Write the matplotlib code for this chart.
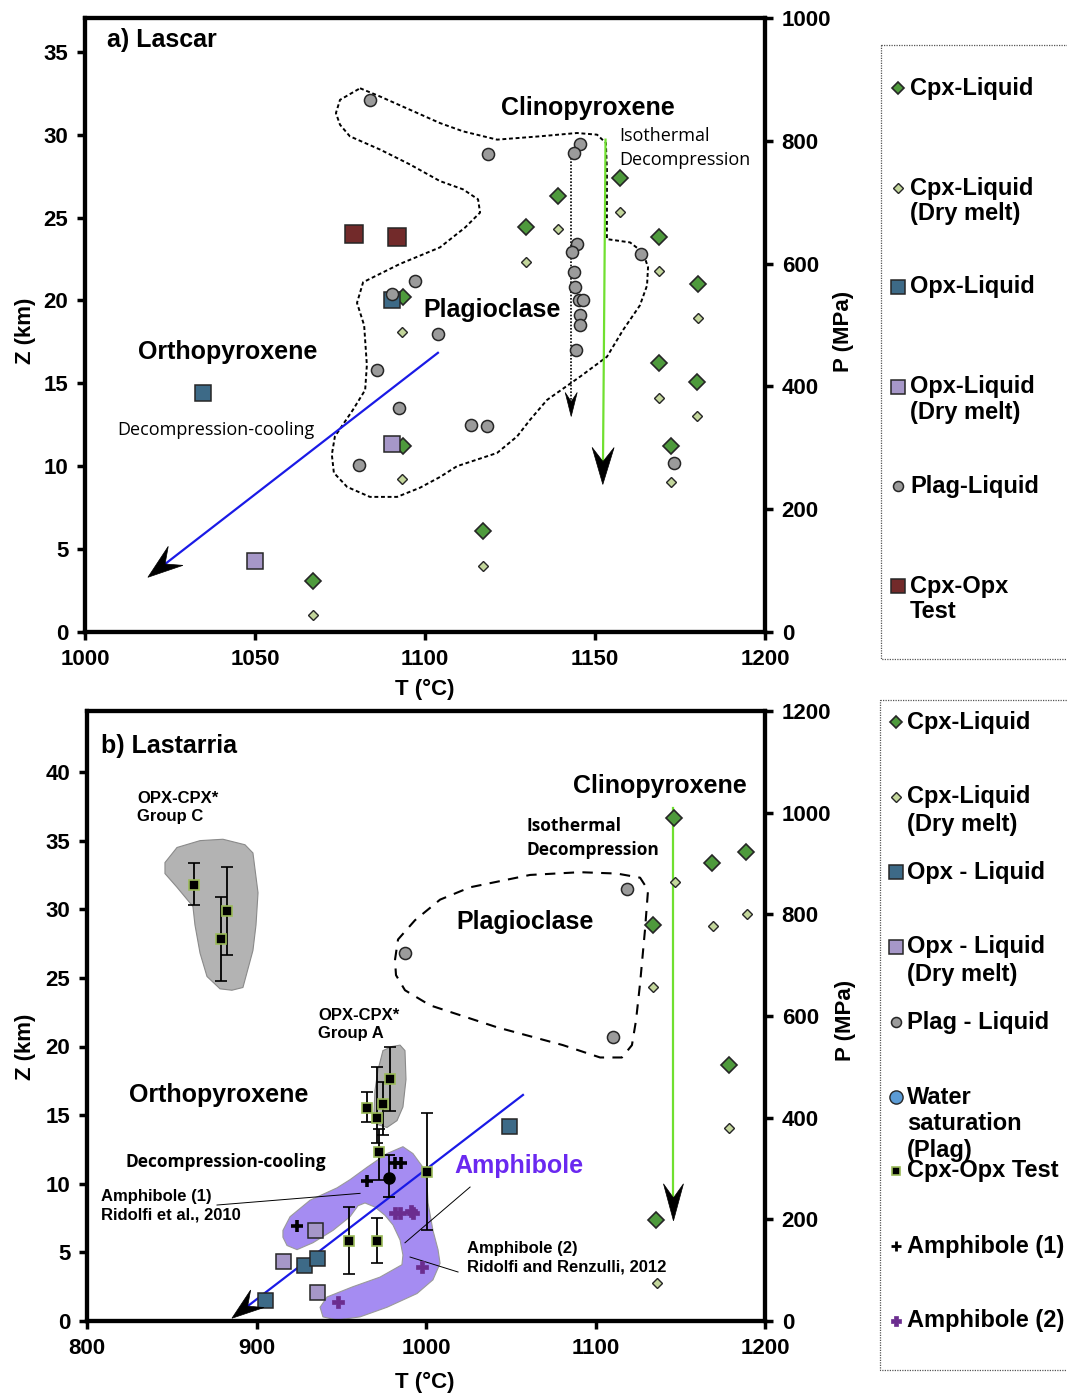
import numpy as np
import matplotlib.pyplot as plt
from matplotlib.patches import Polygon, Rectangle

plt.rcParams["font.family"] = ["Liberation Sans", "DejaVu Sans"]
plt.rcParams["font.weight"] = "bold"
plt.rcParams["axes.labelweight"] = "bold"

# ---------------- a) Lascar ----------------
a_cpx_T = [1157.4, 1139.1, 1129.7, 1168.8, 1180.3, 1093.5, 1168.8, 1180.0, 1172.4, 1117.1, 1093.5, 1067.1]
a_cpx_Z = [27.4, 26.3, 24.4, 23.85, 21.0, 20.2, 16.25, 15.1, 11.2, 6.1, 11.2, 3.1]
a_cpxdry_T = [1157.4, 1139.1, 1129.7, 1168.8, 1180.3, 1093.2, 1168.8, 1180.0, 1172.4, 1117.1, 1093.2, 1067.1]
a_cpxdry_Z = [25.35, 24.3, 22.3, 21.8, 18.95, 18.1, 14.1, 13.0, 9.05, 4.0, 9.2, 1.0]
a_opx_T = [1034.7, 1090.3]
a_opx_Z = [14.4, 20.0]
a_opxdry_T = [1050.0, 1090.3]
a_opxdry_Z = [4.3, 11.35]
a_plag_T = [1083.8, 1118.5, 1145.6, 1143.8, 1144.7, 1143.2, 1143.8, 1144.1, 1145.3, 1146.5, 1145.6,
            1145.6, 1144.4, 1163.5, 1097.1, 1090.3, 1103.8, 1085.9, 1092.4, 1080.6, 1113.5, 1118.2, 1173.2]
a_plag_Z = [32.1, 28.85, 29.45, 28.9, 23.4, 22.9, 21.7, 20.8, 20.0, 20.0, 19.1,
            18.5, 17.0, 22.8, 21.2, 20.4, 18.0, 15.8, 13.5, 10.1, 12.5, 12.4, 10.2]
a_test_T = [1079.1, 1091.8]
a_test_Z = [24.0, 23.8]

# plagioclase field outline
a_field_T = [1080.9, 1086.8, 1095.6, 1104.4, 1111.2, 1121.2, 1133.8, 1144.7, 1150.6, 1153.2, 1153.5,
             1153.5, 1153.5, 1160.3, 1164.1, 1165.6, 1165.3, 1163.2, 1158.2, 1153.5, 1145.6, 1135.9,
             1130.9, 1127.1, 1121.2, 1109.4, 1104.4, 1098.5, 1091.8, 1083.8, 1077.1, 1073.2, 1072.6,
             1073.5, 1078.8, 1082.4, 1082.9, 1082.1, 1080.0, 1081.8, 1092.6, 1104.4, 1111.8, 1116.2,
             1115.6, 1111.2, 1104.4, 1095.6, 1086.8, 1077.9, 1075.0, 1073.8, 1075.0, 1080.9]
a_field_Z = [32.8, 32.3, 31.5, 30.7, 30.2, 29.7, 29.9, 30.1, 30.0, 29.5, 27.9,
             25.5, 23.7, 23.5, 22.9, 22.0, 20.9, 19.7, 18.2, 16.6, 15.4, 14.0,
             12.8, 11.8, 10.8, 10.0, 9.35, 8.7, 8.15, 8.15, 8.75, 9.6, 10.7,
             11.8, 13.4, 14.6, 16.1, 18.5, 19.85, 21.1, 22.2, 23.2, 24.4, 25.3,
             26.1, 26.7, 27.2, 28.2, 29.1, 29.9, 30.6, 31.3, 32.1, 32.8]

# paths (start, end)
a_dotted_T, a_dotted_Z = [1143.0, 1143.0], [28.6, 13.0]
a_iso_T, a_iso_Z = [1153.1, 1152.3], [29.7, 8.9]
a_dc_T, a_dc_Z = [1103.8, 1018.5], [16.84, 3.3]

# ---------------- b) Lastarria ----------------
b_cpx_T = [1146.3, 1168.7, 1188.8, 1133.9, 1178.8, 1135.7]
b_cpx_Z = [36.65, 33.4, 34.2, 28.85, 18.65, 7.36]
b_cpxdry_T = [1146.9, 1169.3, 1189.4, 1133.9, 1178.8, 1136.3]
b_cpxdry_Z = [32.0, 28.8, 29.65, 24.3, 14.05, 2.8]
b_plag_T = [1118.6, 987.6, 1110.3]
b_plag_Z = [31.5, 26.8, 20.7]
b_opx_T = [905.0, 928.0, 935.7, 1049.0]
b_opx_Z = [1.53, 4.1, 4.6, 14.2]
b_opxdry_T = [934.5, 915.6, 935.7]
b_opxdry_Z = [6.6, 4.4, 2.1]
b_test_T = [863.1, 882.6, 879.1, 965.2, 971.1, 972.3, 974.6, 978.8, 1000.6, 954.6, 971.1]
b_test_Z = [31.8, 29.9, 27.8, 15.5, 14.8, 12.3, 15.8, 17.6, 10.85, 5.8, 5.8]
b_test_lo = [30.3, 26.7, 24.8, 14.5, 13.0, 10.3, 13.55, 15.3, 6.6, 3.4, 4.2]
b_test_hi = [33.4, 33.1, 30.9, 16.7, 18.5, 14.0, 17.4, 20.0, 15.15, 8.3, 7.5]
b_dot_T, b_dot_Z, b_dot_lo, b_dot_hi = [978.2], [10.4], [9.0], [12.1]
b_amph1_T = [923.9, 965.2, 981.7, 985.3]
b_amph1_Z = [6.9, 10.2, 11.5, 11.5]
b_amph2_T = [981.7, 984.7, 991.2, 992.3, 997.6, 948.1]
b_amph2_Z = [7.87, 7.87, 8.0, 7.87, 3.9, 1.4]

b_field_T = [981.7, 983.5, 993.5, 1008.3, 1026.0, 1061.4, 1090.9, 1112.7, 1126.3, 1131.0, 1129.2,
             1126.3, 1123.9, 1121.5, 1115.6, 1102.7, 1080.8, 1041.9, 1002.4, 987.6, 982.3, 981.7]
b_field_Z = [26.3, 27.8, 29.2, 30.7, 31.6, 32.5, 32.7, 32.6, 32.3, 31.4, 28.5,
             24.6, 21.9, 20.1, 19.2, 19.2, 20.1, 21.4, 23.0, 24.1, 25.2, 26.3]
grpC_T = [846.0, 853.1, 866.7, 880.2, 893.2, 897.9, 900.9, 899.7, 897.9, 892.0, 885.5, 878.5,
          870.8, 866.7, 863.7, 862.5, 853.1, 846.0]
grpC_Z = [33.4, 34.5, 35.0, 35.1, 34.7, 34.1, 31.2, 28.85, 27.0, 24.3, 24.1, 24.2,
          25.1, 26.8, 28.85, 30.2, 31.6, 32.6]
grpA_T = [974.6, 979.9, 984.7, 987.6, 988.2, 986.4, 982.9, 977.0, 971.7, 969.3, 969.9, 971.7]
grpA_Z = [19.7, 20.0, 20.1, 19.7, 17.6, 15.6, 14.6, 14.1, 14.3, 15.2, 16.8, 18.3]
amph_T = [915.6, 919.8, 931.6, 947.5, 955.2, 965.2, 977.0, 986.4, 992.3, 998.2, 1000.6, 1001.2,
          1004.1, 1007.1, 1008.3, 1004.1, 994.7, 977.0, 961.1, 947.5, 939.2, 937.5, 941.6, 956.9,
          972.9, 985.8, 986.4, 984.7, 980.5, 975.8, 969.9, 964.0, 959.9, 955.2, 945.1, 933.3,
          923.9, 918.0, 915.6]
amph_Z = [6.6, 7.6, 8.8, 9.7, 10.3, 11.2, 12.2, 12.7, 12.2, 11.2, 10.05, 8.6,
          6.6, 5.2, 4.2, 3.0, 2.0, 1.0, 0.3, 0.07, 0.3, 1.0, 1.75, 2.5,
          3.2, 4.1, 4.8, 5.9, 7.0, 7.7, 8.3, 8.6, 8.4, 7.6, 6.6, 5.7,
          5.2, 5.5, 6.1]

b_iso_T, b_iso_Z = [1146.0, 1146.0], [37.4, 7.3]
b_dc_T, b_dc_Z = [1057.2, 885.5], [16.47, 0.2]
# leader lines
lead1_T, lead1_Z = [876.7, 961.1], [8.45, 9.3]
lead2_T, lead2_Z = [1026.0, 987.6], [9.76, 5.7]
lead3_T, lead3_Z = [1018.9, 990.6], [3.57, 4.66]

legend_a = ["Cpx-Liquid", "Cpx-Liquid\n(Dry melt)", "Opx-Liquid", "Opx-Liquid\n(Dry melt)",
            "Plag-Liquid", "Cpx-Opx\nTest"]
legend_b = ["Cpx-Liquid", "Cpx-Liquid\n(Dry melt)", "Opx - Liquid", "Opx - Liquid\n(Dry melt)",
            "Plag - Liquid", "Water\nsaturation\n(Plag)", "Cpx-Opx Test", "Amphibole (1)", "Amphibole (2)"]

# ---- styles ----
EC = "#262626"
cpx_st = dict(ls="none", marker="D", ms=8.2, mfc="#4e9a3c", mec=EC, mew=1.2)
cpxdry_st = dict(ls="none", marker="D", ms=5.6, mfc="#c3d69b", mec=EC, mew=1.0)
opx_st = dict(ls="none", marker="s", ms=11, mfc="#3d6a87", mec=EC, mew=1.1)
opxdry_st = dict(ls="none", marker="s", ms=11, mfc="#a697c8", mec=EC, mew=1.1)
plag_st = dict(ls="none", marker="o", ms=8.7, mfc="#9b9b9b", mec=EC, mew=1.1)
testa_st = dict(ls="none", marker="s", ms=13, mfc="#722a2a", mec=EC, mew=1.1)
testb_st = dict(ls="none", marker="s", ms=7.5, mfc="black", mec="#9bbb59", mew=1.2)
amph1_st = dict(ls="none", marker="+", ms=9, mec="black", mew=2.6)
amph2_st = dict(ls="none", marker="P", ms=8.5, mfc="#6b2d8f", mec="#6b2d8f", mew=0.5)
water_st = dict(ls="none", marker="o", ms=9.5, mfc="#5b9bd5", mec=EC, mew=1.0)

fig = plt.figure(figsize=(10.67, 13.96), dpi=100)
W, H = 1067, 1396


def style_axes(ax, tax):
    for a in (ax, tax):
        for s in a.spines.values():
            s.set_linewidth(3)
        a.tick_params(direction="out", length=6, width=2.5, labelsize=16, pad=6)


def arrow(ax, T, Z, color, lw, head_len, head_w, ls="-"):
    p0 = ax.transData.transform((T[0], Z[0]))
    p1 = ax.transData.transform((T[1], Z[1]))
    u = (p1 - p0) / np.hypot(*(p1 - p0))
    n = np.array([-u[1], u[0]])
    notch = p1 - 0.62 * head_len * u
    pts = np.array([p1, p1 - head_len * u + head_w / 2 * n, notch, p1 - head_len * u - head_w / 2 * n])
    inv = ax.transData.inverted()
    end = inv.transform(notch)
    ax.plot([T[0], end[0]], [Z[0], end[1]], color=color, lw=lw, ls=ls, zorder=4)
    ax.add_patch(Polygon(inv.transform(pts), closed=True, fc="black", ec="black", lw=0.5, zorder=6))


# ================= panel a =================
ax = fig.add_axes([85 / W, 1 - 632 / H, 680 / W, 614 / H])
ax.set_xlim(1000, 1200)
ax.set_ylim(0, 1000 / 27)
ax.set_xticks(np.arange(1000, 1201, 50))
ax.set_yticks(np.arange(0, 36, 5))
tax = ax.twinx()
tax.set_ylim(0, 1000)
tax.set_yticks(np.arange(0, 1001, 200))
style_axes(ax, tax)

ax.plot(a_field_T, a_field_Z, color="black", lw=1.4, ls=(0, (2, 1.4)), zorder=2)
arrow(ax, a_dotted_T, a_dotted_Z, "black", 1.2, 24, 12, ls=(0, (1, 1)))
arrow(ax, a_iso_T, a_iso_Z, "#70e030", 1.6, 37, 22)
arrow(ax, a_dc_T, a_dc_Z, "#1a1ae6", 1.6, 35, 24)

ax.plot(a_cpx_T, a_cpx_Z, zorder=5, **cpx_st)
ax.plot(a_cpxdry_T, a_cpxdry_Z, zorder=5, **cpxdry_st)
ax.plot(a_opx_T, a_opx_Z, zorder=5, **opx_st)
ax.plot(a_opxdry_T, a_opxdry_Z, zorder=5, **opxdry_st)
ax.plot(a_plag_T, a_plag_Z, zorder=5, **plag_st)
ax.plot(a_test_T, a_test_Z, zorder=5, **testa_st)

ax.text(1006.5, 35.7, "a) Lascar", fontsize=18, va="center")
ax.text(1147.9, 31.6, "Clinopyroxene", fontsize=18, ha="center", va="center")
ax.text(1157.1, 29.2, "Isothermal\nDecompression", fontsize=13, family="Open Sans",
        fontweight="normal", va="center", linespacing=1.4)
ax.text(1119.7, 19.4, "Plagioclase", fontsize=18, ha="center", va="center")
ax.text(1042.1, 16.9, "Orthopyroxene", fontsize=18, ha="center", va="center")
ax.text(1009.4, 12.2, "Decompression-cooling", fontsize=13, family="Open Sans",
        fontweight="normal", va="center")

ax.set_xlabel("T (°C)", fontsize=16, va="center")
ax.xaxis.set_label_coords(0.5, -0.094)
ax.set_ylabel("Z (km)", fontsize=16, va="center", ha="center")
ax.yaxis.set_label_coords(-0.088, 0.49)
tax.set_ylabel("P (MPa)", fontsize=16, va="center", ha="center", rotation=90)
tax.yaxis.set_label_coords(1.115, 0.49)

# ================= panel b =================
bx = fig.add_axes([87 / W, 1 - 1321 / H, 678 / W, 610 / H])
bx.set_xlim(800, 1200)
bx.set_ylim(0, 1200 / 27)
bx.set_xticks(np.arange(800, 1201, 100))
bx.set_yticks(np.arange(0, 41, 5))
tbx = bx.twinx()
tbx.set_ylim(0, 1200)
tbx.set_yticks(np.arange(0, 1201, 200))
style_axes(bx, tbx)

bx.add_patch(Polygon(np.column_stack([grpC_T, grpC_Z]), closed=True, fc="#b3b3b3", ec="#8a8a8a", lw=0.8, zorder=1))
bx.add_patch(Polygon(np.column_stack([grpA_T, grpA_Z]), closed=True, fc="#b3b3b3", ec="#8a8a8a", lw=0.8, zorder=1))
bx.add_patch(Polygon(np.column_stack([amph_T, amph_Z]), closed=True, fc="#a58cf2", ec="#9a9a9a", lw=0.8, zorder=1))
bx.plot(b_field_T, b_field_Z, color="black", lw=1.5, ls=(0, (5, 4)), zorder=2)
for lt, lz in [(lead1_T, lead1_Z), (lead2_T, lead2_Z), (lead3_T, lead3_Z)]:
    bx.plot(lt, lz, color="black", lw=0.7, zorder=3)

arrow(bx, b_iso_T, b_iso_Z, "#70e030", 1.6, 37, 20)
arrow(bx, b_dc_T, b_dc_Z, "#1a1ae6", 1.6, 32, 22)

bx.plot(b_cpx_T, b_cpx_Z, zorder=5, **cpx_st)
bx.plot(b_cpxdry_T, b_cpxdry_Z, zorder=5, **cpxdry_st)
bx.plot(b_plag_T, b_plag_Z, zorder=5, **plag_st)
bx.plot(b_opx_T, b_opx_Z, zorder=5, **dict(opx_st, ms=10.8))
bx.plot(b_opxdry_T, b_opxdry_Z, zorder=5, **dict(opxdry_st, ms=10.8))
err = [np.subtract(b_test_Z, b_test_lo), np.subtract(b_test_hi, b_test_Z)]
bx.errorbar(b_test_T, b_test_Z, yerr=err, ecolor="black", elinewidth=1.3, capsize=4, capthick=1.3,
            zorder=6, **testb_st)
bx.errorbar(b_dot_T, b_dot_Z, yerr=[np.subtract(b_dot_Z, b_dot_lo), np.subtract(b_dot_hi, b_dot_Z)],
            ls="none", marker="o", ms=8, mfc="black", mec="black", ecolor="black",
            elinewidth=1.3, capsize=4, capthick=1.3, zorder=6)
bx.plot(b_amph1_T, b_amph1_Z, zorder=7, **amph1_st)
bx.plot(b_amph2_T, b_amph2_Z, zorder=7, **amph2_st)

bx.text(808.3, 41.9, "b) Lastarria", fontsize=18, va="center")
bx.text(829.5, 37.4, "OPX-CPX*\nGroup C", fontsize=12, va="center", linespacing=1.3)
bx.text(1138.1, 39.0, "Clinopyroxene", fontsize=18, ha="center", va="center")
bx.text(1059.0, 35.2, "Isothermal\nDecompression", fontsize=12.5, family="Open Sans",
        va="center", linespacing=1.4)
bx.text(1058.4, 29.1, "Plagioclase", fontsize=18, ha="center", va="center")
bx.text(936.3, 21.6, "OPX-CPX*\nGroup A", fontsize=12, va="center", linespacing=1.3)
bx.text(877.9, 16.5, "Orthopyroxene", fontsize=18, ha="center", va="center")
bx.text(823.0, 11.6, "Decompression-cooling", fontsize=12.5, family="Open Sans", va="center")
bx.text(1016.5, 11.3, "Amphibole", fontsize=18, color="#6a28f0", va="center")
bx.text(808.3, 8.4, "Amphibole (1)\nRidolfi et al., 2010", fontsize=12, va="center", linespacing=1.3)
bx.text(1024.2, 4.6, "Amphibole (2)\nRidolfi and Renzulli, 2012", fontsize=12, va="center", linespacing=1.3)

bx.set_xlabel("T (°C)", fontsize=16, va="center")
bx.xaxis.set_label_coords(0.4985, -0.1)
bx.set_ylabel("Z (km)", fontsize=16, va="center", ha="center")
bx.yaxis.set_label_coords(-0.0914, 0.449)
tbx.set_ylabel("P (MPa)", fontsize=16, va="center", ha="center", rotation=90)
tbx.yaxis.set_label_coords(1.118, 0.493)

# ================= legends (drawn in figure pixel space) =================
lax = fig.add_axes([0, 0, 1, 1])
lax.set_xlim(0, W)
lax.set_ylim(H, 0)
lax.axis("off")
box_st = dict(fill=False, ec="#555555", lw=0.9, ls=(0, (1, 1)))
lax.add_patch(Rectangle((881, 45), 300, 614, **box_st))
lax.add_patch(Rectangle((880, 700), 300, 670, **box_st))

leg_a_styles = [dict(cpx_st, ms=6.6), dict(cpxdry_st, ms=5.4), dict(opx_st, ms=9.5),
                dict(opxdry_st, ms=9.5), dict(plag_st, ms=7.2), dict(testa_st, ms=9.5)]
leg_a_y = [88, 188, 287, 387, 486, 586]
for lab, st, y in zip(legend_a, leg_a_styles, leg_a_y):
    lax.plot([898], [y], **st)
    for i, line in enumerate(lab.split("\n")):
        lax.text(910, y + i * 25.5, line, fontsize=17, va="center")

leg_b_styles = [dict(cpx_st, ms=6.6), dict(cpxdry_st, ms=5.4), dict(opx_st, ms=9.5),
                dict(opxdry_st, ms=9.5), dict(plag_st, ms=7.2), water_st, dict(testb_st, ms=5.5),
                dict(amph1_st, ms=7, mew=2), dict(amph2_st, ms=7)]
leg_b_y = [722, 797, 872, 947, 1022, 1097, 1171, 1246, 1321]
for lab, st, y in zip(legend_b, leg_b_styles, leg_b_y):
    lax.plot([896], [y], **st)
    for i, line in enumerate(lab.split("\n")):
        lax.text(907, y + i * 27, line, fontsize=17, va="center")

fig.savefig("out.png", dpi=100)
